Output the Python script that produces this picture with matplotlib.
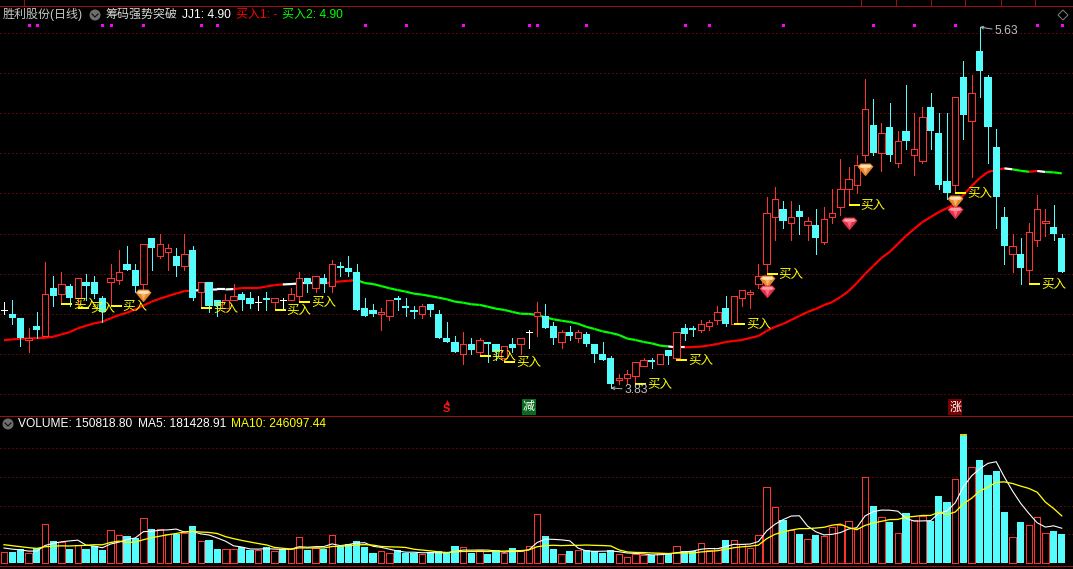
import numpy as np
import pandas as pd
import matplotlib
matplotlib.use("Agg")
import matplotlib.pyplot as plt
from matplotlib.collections import LineCollection
from matplotlib.path import Path
from matplotlib.patches import Circle, Polygon

opens = [4.22,4.20,4.18,4.07,4.14,4.09,4.33,4.30,4.34,4.28,4.36,4.36,4.28,4.36,4.37,4.45,4.42,4.35,4.58,4.49,
 4.51,4.49,4.44,4.52,4.31,4.36,4.27,4.23,4.27,4.30,4.28,4.26,4.28,4.26,4.27,4.27,4.29,4.38,4.33,4.38,
 4.34,4.44,4.43,4.41,4.23,4.22,4.20,4.19,4.28,4.24,4.22,4.20,4.25,4.20,4.08,4.06,4.00,4.05,4.01,4.06,
 4.05,3.98,4.05,4.05,4.11,4.19,4.19,4.14,4.06,4.11,4.08,4.10,4.05,4.00,3.98,3.87,3.88,3.89,3.94,3.97,
 3.95,4.02,3.98,4.13,4.13,4.12,4.14,4.17,4.23,4.15,4.28,4.30,4.35,4.45,4.68,4.72,4.65,4.71,4.64,4.64,
 4.56,4.68,4.73,4.82,4.84,4.99,5.14,5.00,5.13,4.95,5.11,4.99,4.96,5.23,5.10,4.86,4.84,5.38,5.16,5.51,
 5.38,5.03,4.68,4.50,4.50,4.42,4.57,4.65,4.63,4.58]
closes = [4.22,4.18,4.08,4.08,4.12,4.30,4.29,4.35,4.28,4.38,4.34,4.30,4.21,4.38,4.41,4.42,4.34,4.55,4.53,4.55,
 4.53,4.44,4.50,4.28,4.36,4.24,4.24,4.27,4.29,4.27,4.25,4.26,4.27,4.28,4.27,4.30,4.38,4.35,4.39,4.35,
 4.45,4.43,4.41,4.22,4.19,4.20,4.21,4.27,4.27,4.23,4.21,4.24,4.22,4.08,4.06,4.01,4.05,4.02,4.07,4.05,
 4.01,4.04,4.03,4.08,4.11,4.21,4.13,4.08,4.11,4.09,4.11,4.05,4.00,3.97,3.85,3.88,3.90,3.96,3.97,3.96,
 4.00,3.99,4.11,4.10,4.12,4.15,4.16,4.21,4.15,4.29,4.32,4.31,4.39,4.70,4.77,4.66,4.68,4.68,4.66,4.58,
 4.67,4.70,4.82,4.87,4.94,5.22,5.00,5.10,4.99,5.06,5.06,5.02,5.18,5.11,4.84,4.80,5.28,5.19,5.30,5.41,
 5.13,4.78,4.54,4.54,4.43,4.61,4.72,4.66,4.60,4.41]
highs = [4.26,4.27,4.18,4.13,4.21,4.46,4.39,4.41,4.35,4.38,4.40,4.39,4.29,4.45,4.52,4.54,4.45,4.55,4.58,4.60,
 4.55,4.53,4.60,4.54,4.36,4.36,4.27,4.30,4.35,4.31,4.31,4.29,4.31,4.28,4.28,4.33,4.41,4.38,4.39,4.40,
 4.47,4.46,4.49,4.45,4.28,4.25,4.23,4.27,4.29,4.28,4.24,4.25,4.25,4.22,4.16,4.09,4.11,4.08,4.08,4.06,
 4.05,4.04,4.08,4.08,4.12,4.26,4.25,4.16,4.12,4.14,4.12,4.11,4.05,4.06,3.99,3.90,3.92,3.96,3.98,3.98,
 4.00,4.02,4.11,4.15,4.14,4.17,4.17,4.24,4.29,4.29,4.32,4.32,4.45,4.78,4.83,4.76,4.76,4.74,4.68,4.72,
 4.73,4.82,4.97,4.93,4.99,5.37,5.27,5.15,5.25,5.11,5.34,5.20,5.23,5.30,5.20,5.20,5.28,5.46,5.39,5.63,
 5.39,5.12,4.73,4.60,4.58,4.65,4.79,4.72,4.74,4.60]
lows = [4.20,4.15,4.04,4.01,4.08,4.09,4.24,4.25,4.24,4.23,4.27,4.28,4.16,4.24,4.35,4.42,4.31,4.32,4.42,4.48,
 4.42,4.39,4.42,4.27,4.23,4.21,4.19,4.23,4.27,4.22,4.23,4.22,4.22,4.22,4.23,4.27,4.26,4.31,4.31,4.31,
 4.31,4.39,4.39,4.22,4.19,4.19,4.12,4.17,4.22,4.19,4.18,4.18,4.19,4.08,4.06,4.01,3.95,4.00,3.99,3.96,
 3.97,3.96,4.01,4.00,4.03,4.09,4.13,4.05,4.03,4.07,4.06,4.04,3.96,3.97,3.83,3.85,3.85,3.85,3.94,3.93,
 3.95,3.95,3.97,4.07,4.09,4.11,4.12,4.15,4.14,4.15,4.24,4.23,4.33,4.40,4.57,4.63,4.57,4.60,4.57,4.50,
 4.55,4.65,4.69,4.74,4.80,4.96,4.99,4.91,4.96,4.93,5.02,4.89,4.95,5.02,4.82,4.77,4.80,5.07,4.88,5.28,
 4.95,4.63,4.45,4.41,4.35,4.35,4.54,4.59,4.57,4.41]
trend = [4.068,4.072,4.075,4.077,4.078,4.080,4.085,4.097,4.108,4.127,4.140,4.152,4.160,4.177,4.193,4.205,4.221,4.241,4.260,4.275,
 4.288,4.301,4.313,4.315,4.318,4.320,4.321,4.321,4.323,4.328,4.328,4.328,4.336,4.343,4.346,4.348,4.351,4.351,4.351,4.351,
 4.356,4.361,4.364,4.368,4.353,4.348,4.338,4.327,4.318,4.310,4.300,4.295,4.288,4.280,4.272,4.260,4.255,4.247,4.244,4.235,
 4.225,4.219,4.209,4.200,4.199,4.194,4.182,4.172,4.165,4.159,4.150,4.135,4.124,4.112,4.104,4.094,4.076,4.069,4.059,4.052,
 4.041,4.037,4.032,4.032,4.034,4.036,4.042,4.049,4.059,4.064,4.069,4.079,4.089,4.114,4.134,4.149,4.169,4.189,4.209,4.224,
 4.243,4.258,4.283,4.313,4.353,4.398,4.438,4.478,4.508,4.548,4.588,4.623,4.657,4.682,4.707,4.727,4.747,4.792,4.837,4.877,
 4.907,4.917,4.925,4.920,4.913,4.908,4.912,4.907,4.905,4.900]
trend_state = "r"*23+"w"*5+"r"*6+"w"*5+"r"*4+"g"*38+"w"*2+"r"*39+"w"+"g"*2+"r"+"w"+"g"*2
volume = [54,56,70,49,75,201,114,110,72,95,72,86,67,170,144,140,128,233,177,175,
 149,149,154,193,112,119,72,70,70,81,68,67,82,60,72,74,133,67,75,74,
 144,88,96,114,82,51,60,49,65,51,51,44,54,60,49,88,81,51,65,46,
 65,49,77,61,86,254,140,72,47,61,65,65,60,51,65,47,32,47,39,39,
 53,46,86,60,60,102,65,79,119,117,100,75,144,396,291,224,170,151,123,145,
 140,186,196,217,180,448,298,238,214,154,261,224,245,219,350,319,438,670,501,539,
 460,481,266,133,214,196,238,154,166,150.8]
prior_volume = [110,120,100,115,115,85,90,80,76]
buy_signals = [7,9,13,24,33,36,58,61,77,82,89,93,103,116,125]
top_dots = [3,4,12,13,17,24,26,44,49,56,64,65,71,83,86,95,106,111,116,126,129]
orange_gems = {17:4.293, 93:4.363, 105:4.922, 116:4.762}
red_gems = {93:4.313, 103:4.652, 116:4.707}
signal_s, signal_jian, signal_zhang = 54, 64, 116
price_ticks = [3.8,4.0,4.2,4.4,4.6,4.8,5.0,5.2,5.4,5.6]
volume_ticks = [150,300,450,600]

W, H = 1073, 569
RED = "#FF3232"; CYAN = "#54FCFC"; FRAME = "#A01010"; YEL = "#FFFF00"
plt.rcParams["font.family"] = ["Liberation Sans", "Noto Sans CJK SC", "DejaVu Sans"]
PT = 0.72
fig = plt.figure(figsize=(W/100, H/100), dpi=100, facecolor="black")

def panel(top, bottom):
    a = fig.add_axes([0, 1-bottom/H, 1, (bottom-top)/H], facecolor="black")
    a.set_xlim(-4/8.2, (W-4)/8.2)
    a.set_xticks([])
    a.tick_params(left=False, labelleft=False)
    for s in a.spines.values():
        s.set_visible(False)
    a.grid(axis="y", color=FRAME, lw=PT, linestyle=(0, (1, 3)))
    a.set_axisbelow(True)
    return a

ax = panel(6, 415)
ax.set_ylim(5.63-(415-27)/200.5, 5.63+(27-6)/200.5)
ax.set_yticks(price_ticks)
vax = panel(415, 565)
vax.set_ylim(-(565-562.7)*5.25, (562.7-415)*5.25)
vax.set_yticks(volume_ticks)

x = np.arange(len(closes))
o, c, hi, lo = map(np.array, (opens, closes, highs, lows))
up, down, flat = c > o, c < o, c == o
W_FILL, W_HOLLOW = 0.88, 0.76
LW_EDGE = PT

# trend line
pts = np.column_stack([x, trend])
segs = np.stack([pts[:-1], pts[1:]], axis=1)
cmap = {"r": "#FF0000", "g": "#00FF00", "w": "#FFFFFF"}
ax.add_collection(LineCollection(segs, colors=[cmap[s] for s in trend_state], linewidths=2.2*PT, zorder=2, capstyle="butt"))

# candles
ax.vlines(x[down], lo[down], hi[down], color=CYAN, lw=PT, zorder=3, antialiased=False)
ax.bar(x[down], (o-c)[down], bottom=c[down], width=W_FILL, color=CYAN, linewidth=0, zorder=3, antialiased=False)
ax.vlines(x[up], c[up], hi[up], color=RED, lw=PT, zorder=3, antialiased=False)
ax.vlines(x[up], lo[up], o[up], color=RED, lw=PT, zorder=3, antialiased=False)
ax.bar(x[up], (c-o)[up], bottom=o[up], width=W_HOLLOW, facecolor="black", edgecolor=RED, linewidth=LW_EDGE, zorder=3, antialiased=False)
ax.vlines(x[flat], lo[flat], hi[flat], color="white", lw=PT, zorder=3, antialiased=False)
ax.hlines(c[flat], x[flat]-0.4, x[flat]+0.4, color="white", lw=PT, zorder=3, antialiased=False)

# buy marks
for i in buy_signals:
    ax.hlines(lows[i], i, i+1.35, color=YEL, lw=2*PT, zorder=5, antialiased=False)
    ax.annotate("买入", (i, lows[i]), xytext=(12*PT, -0.5*PT), textcoords="offset points",
                color=YEL, fontsize=12.5*PT, va="center", ha="left", zorder=6,
                family=["Noto Sans CJK SC", "DejaVu Sans"])

# gems
def gem(a, idx, price, base, top, mid):
    def mk(verts, color, z):
        v = np.array(verts, float)
        a.plot(idx, price, linestyle="none", marker=Path(v), markersize=11.5*np.abs(v).max(), markerfacecolor=color,
               markeredgewidth=0, zorder=z)
    mk([(-1,.35),(-.62,.75),(.62,.75),(1,.35),(.05,-.8),(-.05,-.8)], base, 7)
    mk([(-.8,.35),(-.55,.6),(.55,.6),(.8,.35),(.5,.2),(-.5,.2)], top, 8)
    mk([(-.3,.2),(.3,.2),(0,-.55)], mid, 8)

for i, p in orange_gems.items():
    gem(ax, i, p, "#E8862E", "#FFE2B4", "#FFB36A")
for i, p in red_gems.items():
    gem(ax, i, p, "#E2304E", "#FF9AA0", "#FF6A7A")

# top signal dots
ax.scatter(top_dots, [5.64]*len(top_dots), marker="s", s=(3*PT)**2, color="#FF00FF", linewidths=0, zorder=6)

# high / low labels
for idx, off in ((int(np.argmax(hi)), (15*PT, -4.5*PT)), (int(np.argmin(lo)), (14*PT, -2*PT))):
    val = hi[idx] if off[0] == 15*PT else lo[idx]
    ax.annotate(f"{val:.2f}", (idx, val), xytext=off, textcoords="offset points", color="#C0C0C0",
                fontsize=12*PT, va="center", ha="left", zorder=7,
                arrowprops=dict(arrowstyle="->", color="#B0B0B0", lw=PT, shrinkA=0, shrinkB=0, mutation_scale=5))

# signal tags
ax.text(signal_s, 3.725, "S", color="#FF1010", fontsize=8, fontweight="bold", ha="center", va="center", zorder=7)
ax.scatter([signal_s], [3.762], marker="^", s=12, color="#FF1010", linewidths=0, zorder=7)
for i, t, col in ((signal_jian, "减", "#0A6A1E"), (signal_zhang, "涨", "#7A0000")):
    ax.text(i, 3.735, t, color="white", fontsize=12*PT, ha="center", va="center", zorder=7,
            family=["Noto Sans CJK SC", "DejaVu Sans"],
            bbox=dict(facecolor=col, edgecolor="none", pad=0.8))

# volume
v = np.array(volume, float)
vup = np.array([(closes[i] > opens[i]) or (closes[i] == opens[i] and (i == 0 or closes[i] >= closes[i-1])) for i in range(len(v))])
vax.bar(x[~vup], v[~vup], width=W_FILL, color=CYAN, linewidth=0, zorder=3, antialiased=False)
vax.bar(x[vup], v[vup], width=W_HOLLOW, facecolor="black", edgecolor=RED, linewidth=LW_EDGE, zorder=3, antialiased=False)
full = pd.Series(prior_volume + list(volume))
n = len(prior_volume)
vax.plot(x, full.rolling(5).mean().to_numpy()[n:], color="white", lw=1.1*PT, zorder=4)
vax.plot(x, full.rolling(10).mean().to_numpy()[n:], color=YEL, lw=1.3*PT, zorder=5)
peak = int(np.argmax(v))
vax.hlines(v[peak], peak-0.42, peak+0.42, color="#C8D820", lw=2*PT, zorder=6, antialiased=False)

# chrome, in pixel coordinates
ov = fig.add_axes([0, 0, 1, 1], facecolor="none", zorder=20)
ov.set_xlim(0, W); ov.set_ylim(H, 0); ov.axis("off")
for y0 in (5.5, 415.5, 565.5):
    ov.plot([0, W], [y0, y0], color=FRAME, lw=PT, antialiased=False)
for xv in (24, 861, 896, 931, 965, 1001, 1035):
    ov.plot([xv, xv], [0, 5], color=FRAME, lw=PT, antialiased=False)

def icon(cx, cy):
    ov.add_patch(Circle((cx, cy), 5.5, facecolor="#6E6E6E", edgecolor="none"))
    ov.plot([cx-3, cx, cx+3], [cy-1, cy+2, cy-1], color="#111111", lw=1.2*PT)

icon(95, 15); icon(8, 424)
ov.add_patch(Polygon([(1063, 10), (1068, 15), (1063, 20), (1058, 15)], closed=True, facecolor="none", edgecolor="#808080", lw=PT))

FS = 12*PT
def label(xp, yp, s, col):
    ov.text(xp, yp, s, color=col, fontsize=FS, va="center", ha="left")

label(3, 14.5, "胜利股份(日线)", "#C8C8C8")
label(105, 14.5, "筹码强势突破", "#D8D8D8")
label(182, 14.5, "JJ1: 4.90", "#FFFFFF")
label(236, 14.5, "买入1: -", "#FF0000")
label(282, 14.5, "买入2: 4.90", "#00FF00")
label(18, 424, "VOLUME: 150818.80", "#FFFFFF")
label(138, 424, "MA5: 181428.91", "#FFFFFF")
label(231, 424, "MA10: 246097.44", YEL)

fig.savefig("out.png", dpi=100, facecolor="black")
